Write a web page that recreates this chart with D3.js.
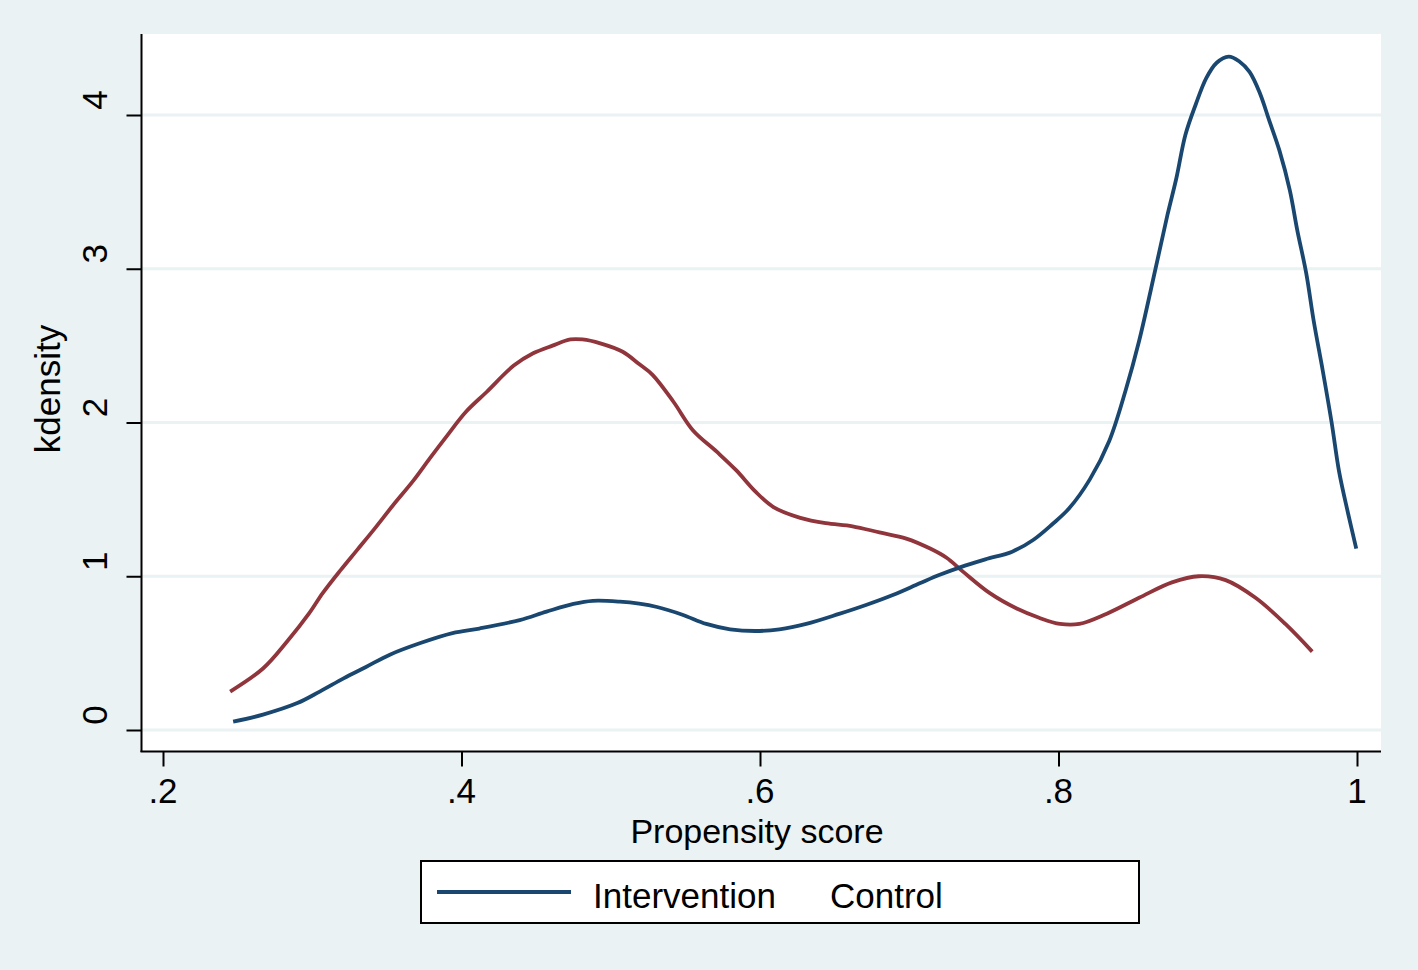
<!DOCTYPE html>
<html>
<head>
<meta charset="utf-8">
<script src="https://cdn.jsdelivr.net/npm/d3@7"></script>
<style>
html,body{margin:0;padding:0;background:#EAF2F3;}
svg{display:block;}
text{font-family:"Liberation Sans",Arial,Helvetica,sans-serif;fill:#000;}
</style>
</head>
<body>
<svg id="chart" width="1418" height="970"></svg>
<script>
// ---- data ----
const interventionX = [0.247,0.267,0.290,0.305,0.321,0.336,0.352,0.372,0.394,0.412,0.439,0.457,0.475,0.488,0.506,0.519,0.531,0.548,0.564,0.580,0.597,0.613,0.631,0.653,0.671,0.689,0.707,0.720,0.734,0.751,0.769,0.783,0.796,0.807,0.821,0.834,0.845,0.854,0.865,0.873,0.879,0.885,0.892,0.899,0.906,0.914,0.921,0.928,0.935,0.941,0.948,0.955,0.960,0.966,0.971,0.977,0.983,0.988,0.994,0.9995];
const interventionY = [0.054,0.10,0.175,0.25,0.336,0.41,0.49,0.564,0.63,0.66,0.715,0.77,0.82,0.84,0.835,0.822,0.80,0.75,0.69,0.655,0.644,0.655,0.69,0.755,0.813,0.878,0.954,1.008,1.058,1.11,1.16,1.236,1.34,1.44,1.63,1.88,2.21,2.53,3.0,3.35,3.59,3.87,4.07,4.24,4.34,4.38,4.35,4.28,4.14,3.97,3.77,3.51,3.25,2.97,2.66,2.34,2.0,1.68,1.41,1.18];
const controlX = [0.245,0.267,0.283,0.298,0.307,0.319,0.330,0.341,0.354,0.368,0.379,0.390,0.403,0.417,0.435,0.448,0.461,0.473,0.481,0.493,0.508,0.519,0.528,0.542,0.555,0.571,0.584,0.597,0.609,0.627,0.644,0.662,0.680,0.698,0.714,0.725,0.736,0.754,0.772,0.787,0.801,0.814,0.832,0.854,0.876,0.894,0.912,0.932,0.952,0.970];
const controlY = [0.25,0.40,0.574,0.76,0.89,1.04,1.17,1.30,1.46,1.625,1.77,1.91,2.07,2.20,2.37,2.45,2.50,2.54,2.54,2.515,2.46,2.38,2.31,2.135,1.95,1.81,1.69,1.55,1.45,1.38,1.345,1.325,1.285,1.245,1.18,1.12,1.03,0.89,0.79,0.73,0.69,0.69,0.755,0.86,0.96,1.0,0.975,0.86,0.69,0.51];
const xTickValues = [0.2,0.4,0.6,0.8,1.0];
const xTickLabels = [".2",".4",".6",".8","1"];
const yTickValues = [0,1,2,3,4];
const yTickLabels = ["0","1","2","3","4"];
const seriesNames = ["Intervention","Control"];
const xTitle = "Propensity score";
const yTitle = "kdensity";

// ---- layout ----
const svg = d3.select("#chart");
const bg = "#EAF2F3";
const blue = "#1A476F", red = "#90353B";
const plot = {left:142, right:1381, top:34, bottom:751};

const x = d3.scaleLinear().domain([0.2,1.0]).range([163,1357]);
const y = d3.scaleLinear().domain([0,4]).range([730,115]);

svg.append("rect").attr("width",1418).attr("height",970).attr("fill",bg);
svg.append("rect").attr("x",plot.left).attr("y",plot.top)
  .attr("width",plot.right-plot.left).attr("height",plot.bottom-plot.top).attr("fill","#fff");

// grid lines
svg.append("g").selectAll("line").data(yTickValues).join("line")
  .attr("x1",plot.left).attr("x2",plot.right)
  .attr("y1",d=>y(d)).attr("y2",d=>y(d))
  .attr("stroke",bg).attr("stroke-width",3);

// curves
const line = d3.line().x(d=>x(d[0])).y(d=>y(d[1])).curve(d3.curveCatmullRom.alpha(0.5));
const interventionData = interventionX.map((v,i)=>[v,interventionY[i]]);
const controlData = controlX.map((v,i)=>[v,controlY[i]]);
svg.append("path").datum(controlData).attr("d",line)
  .attr("fill","none").attr("stroke",red).attr("stroke-width",3.8).attr("stroke-linejoin","round");
svg.append("path").datum(interventionData).attr("d",line)
  .attr("fill","none").attr("stroke",blue).attr("stroke-width",3.8).attr("stroke-linejoin","round");

// axes
const yAxis = d3.axisLeft(y).tickValues(yTickValues).tickSize(15).tickFormat(()=>"");
const gy = svg.append("g").attr("transform",`translate(${plot.left-0.5},0)`).call(yAxis);
gy.select(".domain").remove();
gy.selectAll(".tick line").attr("stroke","#000").attr("stroke-width",2);
svg.append("line").attr("x1",plot.left-0.5).attr("x2",plot.left-0.5)
  .attr("y1",plot.top).attr("y2",plot.bottom+1).attr("stroke","#000").attr("stroke-width",2);

const xAxis = d3.axisBottom(x).tickValues(xTickValues).tickSize(15).tickFormat(()=>"");
const gx = svg.append("g").attr("transform",`translate(0,${plot.bottom+0.5})`).call(xAxis);
gx.select(".domain").remove();
gx.selectAll(".tick line").attr("stroke","#000").attr("stroke-width",2);
svg.append("line").attr("x1",plot.left-1.5).attr("x2",plot.right)
  .attr("y1",plot.bottom+0.5).attr("y2",plot.bottom+0.5).attr("stroke","#000").attr("stroke-width",2);

// tick labels
svg.append("g").selectAll("text").data(xTickValues).join("text")
  .attr("x",d=>x(d)).attr("y",803).attr("text-anchor","middle")
  .attr("font-size",35).text((d,i)=>xTickLabels[i]);
svg.append("g").selectAll("text").data(yTickValues).join("text")
  .attr("transform",d=>`translate(107,${y(d)-15}) rotate(-90)`)
  .attr("text-anchor","middle").attr("font-size",35).text((d,i)=>yTickLabels[i]);

// axis titles
svg.append("text").attr("x",757).attr("y",843).attr("text-anchor","middle")
  .attr("font-size",34).text(xTitle);
svg.append("text").attr("transform","translate(60,389) rotate(-90)")
  .attr("text-anchor","middle").attr("font-size",35).text(yTitle);

// legend
svg.append("rect").attr("x",421).attr("y",861).attr("width",718).attr("height",62)
  .attr("fill","#fff").attr("stroke","#000").attr("stroke-width",2);
svg.append("line").attr("x1",437).attr("x2",571).attr("y1",892).attr("y2",892)
  .attr("stroke",blue).attr("stroke-width",4);
svg.append("text").attr("x",593).attr("y",908).attr("font-size",35).text(seriesNames[0]);
svg.append("text").attr("x",830).attr("y",908).attr("font-size",35).text(seriesNames[1]);
</script>
</body>
</html>
